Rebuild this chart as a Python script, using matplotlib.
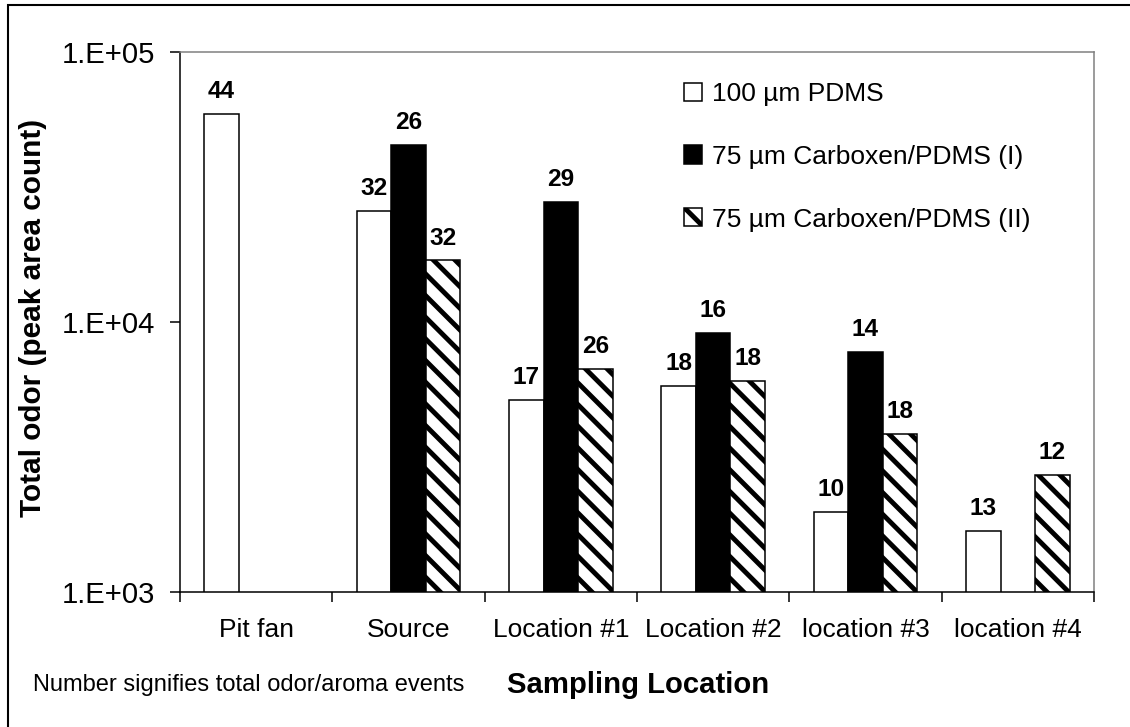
import numpy as np
import matplotlib
matplotlib.use('Agg')
import matplotlib.pyplot as plt
from matplotlib.patches import Rectangle, Patch
from matplotlib.ticker import FixedLocator, NullFormatter, FuncFormatter

plt.rcParams['font.family'] = ['Liberation Sans', 'DejaVu Sans']
plt.rcParams['hatch.linewidth'] = 2.7

# Dados
locais = ['Pit fan', 'Source', 'Location #1', 'Location #2', 'location #3', 'location #4']
series = ['100 µm PDMS', '75 µm Carboxen/PDMS (I)', '75 µm Carboxen/PDMS (II)']
pdms = [59000, 25800, 5140, 5800, 1980, 1680]
carb1 = [np.nan, 45300, 27800, 9100, 7760, np.nan]
carb2 = [np.nan, 16900, 6690, 6030, 3850, 2710]
# número de eventos de odor/aroma (rótulos)
ev_pdms = [44, 32, 17, 18, 10, 13]
ev_carb1 = [None, 26, 29, 16, 14, None]
ev_carb2 = [None, 32, 26, 18, 18, 12]

# dpi 130 -> espaçamento da hachura parecido com o original
dpi = 130
fig = plt.figure(figsize=(1130/dpi, 727/dpi), dpi=dpi)
ax = fig.add_axes([180/1130, 135/727, (1094-180)/1130, (592-52)/727])

x = np.arange(len(locais)) + 0.5
w = 0.227
hach = '\\\\'
estilos = [dict(facecolor='white'), dict(facecolor='black'), dict(facecolor='white', hatch=hach)]
valores = [pdms, carb1, carb2]
eventos = [ev_pdms, ev_carb1, ev_carb2]
lw = 0.85

for k in range(3):
    xs = x + (k - 1) * w
    ax.bar(xs, valores[k], w, edgecolor='black', linewidth=lw, **estilos[k])
    for xi, v, e in zip(xs, valores[k], eventos[k]):
        if e is None:
            continue
        ax.annotate(str(e), (xi, v), xytext=(0, 6), textcoords='offset points',
                    ha='center', va='bottom', fontsize=13.5, fontweight='bold')

ax.set_yscale('log')
ax.set_ylim(1e3, 1e5)
ax.set_xlim(0, len(locais))
ax.yaxis.set_major_locator(FixedLocator([1e3, 1e4, 1e5]))
ax.yaxis.set_minor_locator(FixedLocator([]))
ax.yaxis.set_major_formatter(FuncFormatter(lambda v, p: '1.E+%02d' % round(np.log10(v))))
ax.tick_params(axis='y', direction='out', length=5.4, width=lw, pad=8.5, labelsize=16.2)

# rótulos no centro das categorias, marcas nas divisas
ax.xaxis.set_major_locator(FixedLocator(np.arange(len(locais) + 1)))
ax.xaxis.set_major_formatter(NullFormatter())
ax.xaxis.set_minor_locator(FixedLocator(x))
ax.set_xticklabels(locais, minor=True)
ax.tick_params(axis='x', which='major', direction='out', length=5.4, width=lw)
ax.tick_params(axis='x', which='minor', length=0, pad=14.6, labelsize=14.6)

for s in ['left', 'bottom']:
    ax.spines[s].set_linewidth(lw)
for s in ['top', 'right']:
    ax.spines[s].set_color('#808080')
    ax.spines[s].set_linewidth(lw)

# legenda
alcas = [Patch(facecolor='white', edgecolor='black', linewidth=lw),
         Patch(facecolor='black', edgecolor='black', linewidth=lw),
         Patch(facecolor='white', edgecolor='black', hatch=hach, linewidth=lw)]
fig.legend(alcas, series, loc='upper left', bbox_to_anchor=(684/1130, 1 - 82/727),
           frameon=False, fontsize=14.6, handlelength=0.69, handleheight=0.69,
           handletextpad=0.38, labelspacing=1.47, borderaxespad=0, borderpad=0)

fig.text(33/1130, 1 - 318/727, 'Total odor (peak area count)', rotation=90,
         ha='center', va='center', fontsize=16.5, fontweight='bold')
fig.text(638/1130, 1 - 685/727, 'Sampling Location', ha='center', va='center',
         fontsize=16.2, fontweight='bold')
fig.text(33/1130, 1 - 685/727, 'Number signifies total odor/aroma events',
         ha='left', va='center', fontsize=13.1)

# moldura externa
fig.patches.append(Rectangle((8/1130, -0.05), 1.1, 1 - 5/727 + 0.05, fill=False,
                             edgecolor='black', linewidth=1.15, transform=fig.transFigure))

fig.savefig('out.png', dpi=dpi)
